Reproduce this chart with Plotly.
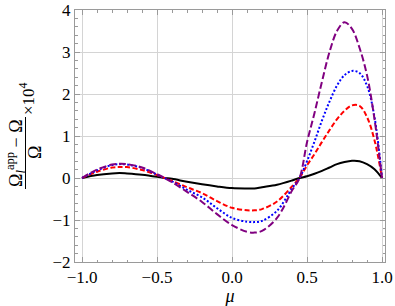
import plotly.graph_objects as go

mu = [-1.0, -0.9, -0.8, -0.75, -0.7, -0.6, -0.5, -0.45, -0.4, -0.3, -0.2, -0.1, 0.0,
      0.1, 0.15, 0.2, 0.3, 0.4, 0.45, 0.5, 0.55, 0.6, 0.65, 0.7, 0.75, 0.8, 0.85, 0.9, 0.95, 1.0]

black = [0, 0.07, 0.11, 0.12, 0.11, 0.08, 0.03, 0, -0.02, -0.09, -0.15, -0.2, -0.24,
         -0.25, -0.25, -0.22, -0.16, -0.06, 0, 0.04, 0.1, 0.17, 0.25, 0.33, 0.38, 0.41, 0.4, 0.33, 0.21, 0]
red = [0, 0.15, 0.25, 0.26, 0.26, 0.19, 0.07, 0, -0.07, -0.22, -0.36, -0.55, -0.71,
       -0.77, -0.77, -0.74, -0.56, -0.2, 0, 0.3, 0.57, 0.86, 1.14, 1.4, 1.6, 1.73, 1.72, 1.45, 0.9, 0]
blue = [0, 0.18, 0.31, 0.33, 0.32, 0.24, 0.08, 0, -0.08, -0.28, -0.46, -0.72, -0.95,
        -1.04, -1.05, -1.02, -0.78, -0.25, 0, 0.4, 0.87, 1.37, 1.82, 2.2, 2.45, 2.55, 2.5, 2.2, 1.45, 0]
purple = [0, 0.2, 0.32, 0.34, 0.33, 0.25, 0.09, 0, -0.1, -0.33, -0.57, -0.86, -1.12,
          -1.28, -1.3, -1.26, -0.95, -0.3, 0, 0.85, 1.55, 2.3, 3.0, 3.5, 3.71, 3.55, 3.1, 2.45, 1.4, 0]

x_tickvals = [-1.0, -0.5, 0.0, 0.5, 1.0]
x_ticktext = ["\u22121.0", "\u22120.5", "0.0", "0.5", "1.0"]
y_tickvals = [-2, -1, 0, 1, 2, 3, 4]
y_ticktext = ["\u22122", "\u22121", "0", "1", "2", "3", "4"]

series = [
    (black, "black", "solid"),
    (red, "rgb(255,0,0)", "5px,2.5px"),
    (blue, "rgb(0,0,255)", "2px,2px"),
    (purple, "rgb(128,0,128)", "7px,3px"),
]

fig = go.Figure()
for ys, col, dash in series:
    fig.add_trace(go.Scatter(x=mu, y=ys, mode="lines",
                             line=dict(color=col, width=2, dash=dash, shape="spline", smoothing=1.0),
                             showlegend=False, hoverinfo="skip"))

serif = "Liberation Serif, Times New Roman, serif"
axis_common = dict(
    showline=True, linecolor="#9a9a9a", linewidth=1, mirror="ticks",
    ticks="inside", ticklen=5, tickcolor="#9a9a9a", tickwidth=1,
    showgrid=True, gridcolor="#d4d4d4", gridwidth=1, zeroline=False,
    automargin=False, ticklabeloverflow="allow",
    tickfont=dict(family=serif, size=17, color="black"),
)
fig.update_xaxes(range=[-1.047, 1.02], tickvals=x_tickvals, ticktext=x_ticktext,
                 minor=dict(ticks="inside", dtick=0.1, tick0=0, ticklen=2.5, tickcolor="#9a9a9a", showgrid=False),
                 title=dict(text="<i>\u03bc</i>", font=dict(family=serif, size=18, color="black"), standoff=4),
                 **axis_common)
fig.update_yaxes(range=[-2, 4], tickvals=y_tickvals, ticktext=y_ticktext,
                 minor=dict(ticks="inside", dtick=0.2, tick0=0, ticklen=2.5, tickcolor="#9a9a9a", showgrid=False),
                 **axis_common)

W, H = 395, 306
L, R, T, B = 75, 10, 10, 44
pw, ph = W - L - R, H - T - B

def px(x):
    return (x - L) / pw

def py(y):
    return 1 - (y - T) / ph

anns = [
    dict(text="\u03a9<sub><i>l</i></sub><sup>app</sup> \u2212 \u03a9", x=px(15), y=py(153), size=18),
    dict(text="\u03a9", x=px(35), y=py(153), size=18),
    dict(text="\u00d710<sup>4</sup>", x=px(27), y=py(99), size=17),
]
for a in anns:
    fig.add_annotation(text=a["text"], x=a["x"], y=a["y"], xref="paper", yref="paper",
                       textangle=-90, showarrow=False, xanchor="center", yanchor="middle",
                       font=dict(family=serif, size=a["size"], color="black"))
fig.add_shape(type="line", xref="paper", yref="paper",
              x0=px(25.5), x1=px(25.5), y0=py(117), y1=py(189),
              line=dict(color="black", width=1))

fig.update_layout(width=W, height=H, margin=dict(l=L, r=R, t=T, b=B),
                  plot_bgcolor="white", paper_bgcolor="white", font=dict(family=serif))
fig.write_html("out.html", config={"displayModeBar": False},
               post_script="document.body.style.margin='0';document.body.style.overflow='hidden';")
